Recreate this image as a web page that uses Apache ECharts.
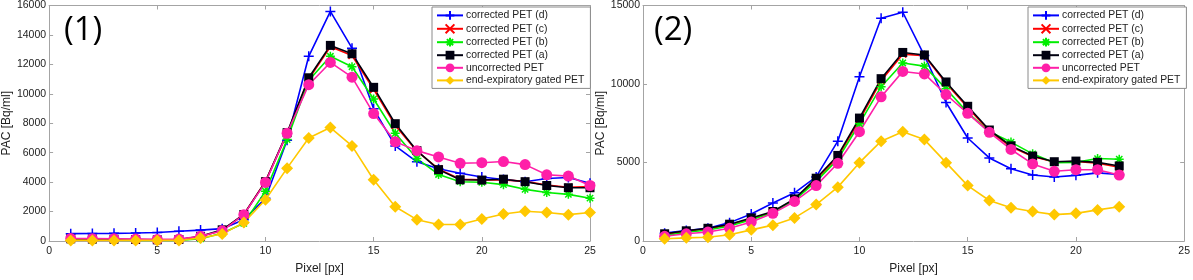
<!DOCTYPE html>
<html>
<head>
<meta charset="utf-8">
<script src="https://cdn.jsdelivr.net/npm/echarts@6/dist/echarts.min.js"></script>
<style>
  html, body { margin: 0; padding: 0; background: #ffffff; }
  #chart { width: 1193px; height: 280px; }
</style>
</head>
<body>
<div id="chart"></div>
<script>
// panel (1)
const pixels1 = [1, 2, 3, 4, 5, 6, 7, 8, 9, 10, 11, 12, 13, 14, 15, 16, 17, 18, 19, 20, 21, 22, 23, 24, 25];
const p1CorrD = [500, 510, 520, 540, 580, 660, 740, 840, 1450, 2900, 6850, 12550, 15600, 13100, 8980, 6460, 5380, 4910, 4600, 4350, 4180, 4030, 4250, 4310, 3920];
const p1CorrC = [130, 110, 100, 90, 70, 90, 300, 720, 1800, 4050, 7300, 11000, 13200, 12600, 10300, 7850, 6100, 4900, 4200, 4150, 4150, 4050, 3800, 3650, 3700];
const p1CorrB = [60, 50, 50, 40, 30, 40, 150, 520, 1200, 3380, 6890, 10900, 12550, 11840, 9650, 7320, 5600, 4520, 4030, 3990, 3830, 3510, 3290, 3170, 2910];
const p1CorrA = [150, 130, 120, 100, 80, 100, 320, 760, 1800, 4030, 7360, 11090, 13290, 12720, 10440, 7970, 6140, 4850, 4160, 4140, 4200, 4030, 3770, 3620, 3620];
const p1Uncorr = [170, 160, 150, 130, 110, 130, 320, 690, 1790, 3980, 7320, 10620, 12130, 11130, 8660, 6740, 6140, 5710, 5280, 5320, 5400, 5190, 4500, 4410, 3770];
const p1Gated = [40, 40, 40, 40, 40, 40, 200, 470, 1250, 2800, 4950, 7000, 7710, 6460, 4160, 2330, 1450, 1120, 1120, 1490, 1830, 2020, 1940, 1790, 1940];

// panel (2)
const pixels2 = [1, 2, 3, 4, 5, 6, 7, 8, 9, 10, 11, 12, 13, 14, 15, 16, 17, 18, 19, 20, 21, 22];
const p2CorrD = [500, 670, 810, 1170, 1720, 2420, 3070, 4080, 6360, 10460, 14190, 14570, 11810, 8820, 6560, 5290, 4600, 4200, 4080, 4180, 4340, 4240];
const p2CorrC = [420, 630, 780, 1020, 1400, 1830, 2640, 3900, 5350, 7700, 10200, 11900, 11800, 10050, 8500, 7000, 6000, 5380, 5030, 5060, 4950, 4700];
const p2CorrB = [340, 560, 700, 950, 1350, 1800, 2600, 3800, 5200, 7470, 9830, 11340, 11140, 9690, 8180, 6960, 6300, 5550, 4990, 5010, 5250, 5210];
const p2CorrA = [460, 650, 810, 1070, 1470, 1880, 2680, 4000, 5450, 7830, 10340, 12010, 11850, 10130, 8580, 7070, 6060, 5410, 5050, 5090, 5010, 4780];
const p2Uncorr = [300, 460, 570, 810, 1210, 1760, 2520, 3530, 4950, 6960, 9180, 10800, 10640, 9330, 8130, 6920, 5830, 4910, 4440, 4540, 4540, 4200];
const p2Gated = [140, 200, 240, 400, 710, 1010, 1470, 2320, 3430, 4990, 6360, 6960, 6460, 4990, 3530, 2580, 2120, 1880, 1680, 1760, 1980, 2180];

const seriesNames = ['corrected PET (d)', 'corrected PET (c)', 'corrected PET (b)', 'corrected PET (a)', 'uncorrected PET', 'end-expiratory gated PET'];

const FONT = '"Liberation Sans", Arial, sans-serif';
const AXIS_GRAY = '#a4a4a4';
const TEXT = '#222222';

// marker styles, same order as seriesNames
const markers = [
  { color: '#0000ff', symbol: 'path://M5,0L5,10M0,5L10,5', size: 10, stroke: true },
  { color: '#ff0000', symbol: 'path://M0,0L10,10M0,10L10,0', size: 7, stroke: true },
  { color: '#00ee00', symbol: 'path://M5,0L5,10M0,5L10,5M1.5,1.5L8.5,8.5M1.5,8.5L8.5,1.5', size: 9, stroke: true },
  { color: '#000010', symbol: 'rect', size: 9, stroke: false },
  { color: '#ff1fa8', symbol: 'circle', size: 11, stroke: false },
  { color: '#ffc800', symbol: 'diamond', size: 12, stroke: false }
];

const toPairs = (xs, ys) => xs.map((x, i) => [x, ys[i]]);

const makeSeries = (idx, xs, ys, panel) => {
  const m = markers[idx];
  return {
    name: seriesNames[idx],
    type: 'line',
    xAxisIndex: panel,
    yAxisIndex: panel,
    data: toPairs(xs, ys),
    symbol: m.symbol,
    symbolSize: m.size,
    showAllSymbol: true,
    lineStyle: { color: m.color, width: 1.6 },
    itemStyle: m.stroke
      ? { color: m.color, borderColor: m.color, borderWidth: 1.5 }
      : { color: m.color, borderWidth: 0 },
    emphasis: { disabled: true },
    animation: false
  };
};

const chart = echarts.init(document.getElementById('chart'), null, { renderer: 'canvas' });

const plainNum = (v) => String(v);

const bottomAxis = (grid, name) => ({
  type: 'value',
  gridIndex: grid,
  min: 0,
  max: 25,
  interval: 5,
  name: name,
  nameLocation: 'middle',
  nameGap: 22,
  nameTextStyle: { color: TEXT, fontFamily: FONT, fontSize: 12 },
  axisLine: { show: true, onZero: false, lineStyle: { color: AXIS_GRAY, width: 1 } },
  axisTick: { show: true, inside: true, length: 4, lineStyle: { color: AXIS_GRAY } },
  axisLabel: { color: TEXT, fontFamily: FONT, fontSize: 10.5, margin: 5, formatter: plainNum },
  splitLine: { show: false }
});

const topAxis = (grid) => ({
  type: 'value',
  gridIndex: grid,
  position: 'top',
  min: 0,
  max: 25,
  interval: 5,
  axisLine: { show: true, onZero: false, lineStyle: { color: AXIS_GRAY, width: 1 } },
  axisTick: { show: true, inside: true, length: 4, lineStyle: { color: AXIS_GRAY } },
  axisLabel: { show: false },
  splitLine: { show: false }
});

const leftAxis = (grid, max, interval) => ({
  type: 'value',
  gridIndex: grid,
  min: 0,
  max: max,
  interval: interval,
  name: 'PAC [Bq/ml]',
  nameLocation: 'middle',
  nameGap: 30,
  nameTextStyle: { color: TEXT, fontFamily: FONT, fontSize: 12 },
  axisLine: { show: true, onZero: false, lineStyle: { color: AXIS_GRAY, width: 1 } },
  axisTick: { show: true, inside: true, length: 4, lineStyle: { color: AXIS_GRAY } },
  axisLabel: { color: TEXT, fontFamily: FONT, fontSize: 10.5, margin: 3, formatter: plainNum },
  splitLine: { show: false }
});

const rightAxis = (grid, max, interval) => ({
  type: 'value',
  gridIndex: grid,
  position: 'right',
  min: 0,
  max: max,
  interval: interval,
  axisLine: { show: true, onZero: false, lineStyle: { color: AXIS_GRAY, width: 1 } },
  axisTick: { show: true, inside: true, length: 4, lineStyle: { color: AXIS_GRAY } },
  axisLabel: { show: false },
  splitLine: { show: false }
});

const legendCfg = (left) => ({
  orient: 'vertical',
  left: left,
  top: 7,
  padding: [3, 6, 3, 4],
  itemGap: 2.6,
  itemWidth: 26,
  itemHeight: 11,
  backgroundColor: '#ffffff',
  borderColor: '#8a8a8a',
  borderWidth: 1,
  borderRadius: 0,
  selectedMode: false,
  textStyle: { color: TEXT, fontFamily: FONT, fontSize: 10.4, padding: [0, 0, 0, -2] },
  data: seriesNames
});

const series = [];
const panel1 = [p1CorrD, p1CorrC, p1CorrB, p1CorrA, p1Uncorr, p1Gated];
const panel2 = [p2CorrD, p2CorrC, p2CorrB, p2CorrA, p2Uncorr, p2Gated];
panel1.forEach((ys, i) => series.push(makeSeries(i, pixels1, ys, 0)));
panel2.forEach((ys, i) => series.push(makeSeries(i, pixels2, ys, 1)));

const y1 = leftAxis(0, 16000, 2000);
y1.nameGap = 26;
const y2 = leftAxis(1, 15000, 5000);
y2.nameGap = 32;

const option = {
  backgroundColor: '#ffffff',
  animation: false,
  grid: [
    { left: 47, right: 603, top: 4, bottom: 28, containLabel: false },
    { left: 643, right: 6, top: 4, bottom: 28, containLabel: false }
  ],
  xAxis: [bottomAxis(0, 'Pixel [px]'), bottomAxis(1, 'Pixel [px]'), topAxis(0), topAxis(1)],
  yAxis: [y1, y2, rightAxis(0, 16000, 2000), rightAxis(1, 15000, 5000)],
  legend: [legendCfg(432), legendCfg(1028)],
  graphic: [
    { type: 'text', left: 64, top: 14, style: { text: '(1)', fontFamily: '"Open Sans", sans-serif', fontSize: 33, fill: '#000000' } },
    { type: 'text', left: 654, top: 14, style: { text: '(2)', fontFamily: '"Open Sans", sans-serif', fontSize: 33, fill: '#000000' } }
  ],
  series: series
};

chart.setOption(option);
</script>
</body>
</html>
